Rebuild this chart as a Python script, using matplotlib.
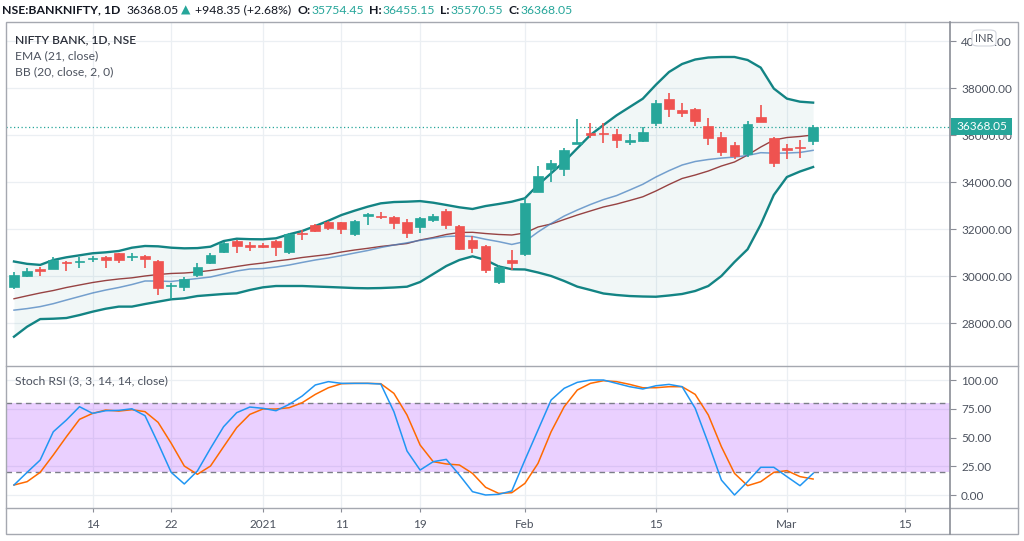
import numpy as np
import matplotlib.pyplot as plt
from matplotlib.patches import Rectangle, FancyBboxPatch
from matplotlib.lines import Line2D
from matplotlib.ticker import FormatStrFormatter

plt.rcParams['font.family'] = ['Lato', 'DejaVu Sans']

# daily bars, NIFTY BANK, 4 Dec 2020 .. 3 Mar 2021
dates = ['2020-12-04', '2020-12-07', '2020-12-08', '2020-12-09', '2020-12-10', '2020-12-11',
         '2020-12-14', '2020-12-15', '2020-12-16', '2020-12-17', '2020-12-18', '2020-12-21',
         '2020-12-22', '2020-12-23', '2020-12-24', '2020-12-28', '2020-12-29', '2020-12-30',
         '2020-12-31', '2021-01-01', '2021-01-04', '2021-01-05', '2021-01-06', '2021-01-07',
         '2021-01-08', '2021-01-11', '2021-01-12', '2021-01-13', '2021-01-14', '2021-01-15',
         '2021-01-18', '2021-01-19', '2021-01-20', '2021-01-21', '2021-01-22', '2021-01-25',
         '2021-01-27', '2021-01-28', '2021-01-29', '2021-02-01', '2021-02-02', '2021-02-03',
         '2021-02-04', '2021-02-05', '2021-02-08', '2021-02-09', '2021-02-10', '2021-02-11',
         '2021-02-12', '2021-02-15', '2021-02-16', '2021-02-17', '2021-02-18', '2021-02-19',
         '2021-02-22', '2021-02-23', '2021-02-24', '2021-02-25', '2021-02-26', '2021-03-01',
         '2021-03-02', '2021-03-03']

opens = [29545, 30013, 30325, 30325, 30600, 30600, 30735, 30820, 30980, 30808,
         30865, 30640, 29588, 29560, 30040, 30580, 31020, 31515, 31320, 31332,
         31515, 31050, 31855, 32183, 32325, 32300, 31815, 32565, 32580, 32535,
         32300, 32085, 32396, 32780, 32140, 31545, 31290, 29770, 30705, 30950,
         33600, 34566, 34553, 35643, 36110, 36110, 36055, 35730, 35770, 36536,
         37532, 37090, 37119, 36383, 35915, 35587, 35204, 36791, 35872, 35447,
         35515, 35754.45]
highs = [30183, 30353, 30410, 30807, 30640, 30830, 30865, 30865, 31005, 30980,
         30893, 30694, 29700, 29985, 30550, 30980, 31450, 31545, 31460, 31405,
         31545, 31830, 31983, 32210, 32370, 32325, 32410, 32680, 32725, 32580,
         32425, 32510, 32640, 32850, 32183, 31715, 31332, 30480, 31119, 33320,
         34707, 34950, 35447, 36680, 36510, 36510, 36268, 36055, 36366, 37502,
         37787, 37362, 37149, 36723, 36153, 35702, 36608, 37289, 35940, 35617,
         35800, 36455.15]
lows = [29460, 29970, 30013, 30300, 30225, 30340, 30610, 30365, 30560, 30650,
        30365, 29204, 29020, 29385, 29985, 30530, 30980, 31005, 31090, 31190,
        30880, 30937, 31545, 31885, 31970, 31815, 31730, 32170, 32425, 32010,
        31645, 31855, 32300, 32000, 31119, 31005, 30127, 29672, 30268, 30880,
        33600, 34025, 34268, 35630, 35872, 35660, 35447, 35587, 35730, 36408,
        36766, 36779, 36396, 35587, 35119, 34991, 35090, 36553, 34664, 34991,
        35047, 35570.55]
closes = [30055, 30225, 30240, 30694, 30560, 30640, 30760, 30694, 30694, 30865,
          30722, 29490, 29644, 29900, 30410, 30910, 31400, 31300, 31260, 31234,
          31234, 31787, 31787, 31940, 32070, 32000, 32370, 32635, 32535, 32255,
          31830, 32470, 32580, 32183, 31162, 31217, 30268, 30410, 30565, 33105,
          34280, 34808, 35374, 35702, 36000, 36068, 35800, 35787, 36153, 37362,
          37119, 36950, 36621, 35872, 35277, 35119, 36468, 36579, 34834, 35362,
          35447, 36368.05]

ema21 = [28560, 28625, 28710, 28835, 28990, 29140, 29290, 29415, 29523, 29650,
         29800, 29800, 29780, 29843, 29906, 29970, 30097, 30225, 30310, 30330,
         30395, 30480, 30590, 30694, 30780, 30880, 30990, 31097, 31225, 31332,
         31425, 31530, 31617, 31695, 31715, 31695, 31575, 31475, 31355, 31480,
         31885, 32245, 32565, 32820, 33055, 33265, 33435, 33672, 33915, 34225,
         34495, 34735, 34885, 34970, 35030, 35075, 35140, 35260, 35240, 35245,
         35270, 35360]
bb_basis = [29045, 29170, 29290, 29395, 29523, 29630, 29735, 29820, 29885, 29935,
            30013, 30077, 30120, 30140, 30183, 30247, 30330, 30417, 30500, 30565,
            30650, 30715, 30800, 30865, 30928, 31034, 31119, 31190, 31270, 31332,
            31395, 31545, 31650, 31780, 31865, 31872, 31820, 31780, 31757, 31843,
            32098, 32225, 32417, 32608, 32780, 32950, 33075, 33225, 33383, 33630,
            33906, 34162, 34310, 34480, 34693, 34864, 35160, 35500, 35800, 35905,
            35950, 36013]
bb_upper = [30630, 30530, 30485, 30694, 30808, 30893, 30980, 31020, 31077, 31217,
            31290, 31275, 31217, 31190, 31200, 31260, 31500, 31600, 31580, 31574,
            31617, 31787, 31928, 32140, 32365, 32608, 32792, 32962, 33105, 33160,
            33175, 33200, 33132, 33035, 32935, 32864, 32990, 33077, 33175, 33320,
            33885, 34383, 34877, 35447, 36013, 36438, 36850, 37204, 37557, 38150,
            38693, 39034, 39225, 39310, 39332, 39332, 39204, 38880, 37990, 37560,
            37430, 37390]
bb_lower = [27430, 27855, 28180, 28195, 28225, 28350, 28495, 28620, 28710, 28710,
            28820, 28920, 29020, 29062, 29160, 29204, 29247, 29275, 29417, 29530,
            29587, 29587, 29587, 29565, 29545, 29523, 29500, 29490, 29500, 29523,
            29557, 29757, 30097, 30438, 30694, 30850, 30694, 30420, 30300, 30290,
            30162, 30013, 29800, 29560, 29417, 29268, 29204, 29160, 29140, 29130,
            29183, 29247, 29375, 29587, 30013, 30608, 31150, 32200, 33460, 34225,
            34460, 34650]

stoch_k = [8.7, 19.7, 30.4, 55, 65.2, 76.8, 71, 73.3, 73.6, 75,
           69, 45, 19.7, 9.6, 20.9, 40.6, 59.4, 71.6, 76.5, 75.4,
           73.3, 78.8, 86.1, 95.7, 98.6, 97.1, 97.1, 97.1, 96.5, 72.5,
           38.3, 21.7, 29, 31, 17.4, 2.9, 0, 0.6, 3.5, 30.4,
           56.5, 82.6, 92.8, 98, 100, 100, 97.1, 94.2, 92.2, 95,
           96.2, 94.2, 75.4, 45, 13, 0, 11.6, 24.1, 24.1, 16,
           8.1, 18.8]
stoch_d = [8.7, 11.6, 19.7, 34.8, 50.7, 65.8, 71, 73.9, 73, 74.2,
           72.5, 63.2, 45, 25.2, 18, 25.2, 42, 58.6, 70.1, 74.8,
           74.8, 75.9, 80.3, 87.5, 93.3, 96.8, 97.1, 97.1, 96.8, 88.4,
           69.6, 43.5, 29, 27, 26.1, 18.8, 6.7, 1.4, 2, 10.1,
           27.5, 55, 76.8, 91.3, 97.1, 99.4, 98.6, 96.2, 93.3, 93.3,
           94.2, 94.2, 87.5, 69.6, 42, 18.8, 8.1, 11.6, 19.7, 21.2,
           16, 13.9]

# time-axis labels (bar index; 68 = 15 Mar, beyond the last bar)
tick_pos = [6, 12, 19, 25, 31, 39, 49, 59, 68]
tick_text = ['14', '22', '2021', '11', '19', 'Feb', '15', 'Mar', '15']
price_ticks = [28000, 30000, 32000, 34000, 36000, 38000, 40000]
stoch_ticks = [0, 25, 50, 75, 100]
last_close = 36368.05

GREEN = '#26A69A'
RED = '#EF5350'
TXT = '#4C525E'
GRID = '#EBEFF3'

W, H = 1024, 541
fig = plt.figure(figsize=(W / 100, H / 100), dpi=100)


def fx(x):
    return x / W


def fy(y):
    return 1 - y / H


L, R = 6, 950
ax = fig.add_axes([fx(L), fy(366), (R - L) / W, (366 - 22) / H])
ax2 = fig.add_axes([fx(L), fy(508), (R - L) / W, (508 - 366) / H], sharex=ax)

x = np.arange(len(dates))
o, h, l, c = (np.array(a, dtype=float) for a in (opens, highs, lows, closes))
cols = np.where(c >= o, GREEN, RED)

# bollinger bands + ema
ax.fill_between(x, bb_lower, bb_upper, color='#198787', alpha=0.06, lw=0, zorder=1)
ax.plot(x, bb_upper, color='#138484', lw=1.7, zorder=2)
ax.plot(x, bb_lower, color='#138484', lw=1.7, zorder=2)
ax.plot(x, bb_basis, color='#872323', lw=1.0, alpha=0.85, zorder=2)
ax.plot(x, ema21, color='#4A82C0', lw=1.1, alpha=0.75, zorder=2)

# candles
ax.vlines(x, l, h, colors=cols, lw=1.2, zorder=4)
body_h = np.maximum(np.abs(c - o), 25)
ax.bar(x, body_h, bottom=np.minimum(o, c), width=0.74, color=cols,
       edgecolor=cols, lw=0.5, zorder=5)

ax.axhline(last_close, color=GREEN, ls=(0, (1, 2)), lw=0.9, zorder=3)

ax.set_xlim(-0.61, 71.45)
ax.set_ylim(26183, 40821)
ax.set_xticks(tick_pos)
ax.set_yticks(price_ticks)
ax.yaxis.set_major_formatter(FormatStrFormatter('%.2f'))
ax.yaxis.tick_right()
ax.tick_params(axis='y', direction='out', length=4, pad=4, labelsize=8.5,
               colors='#8A8D96', labelcolor=TXT)
ax.tick_params(axis='x', length=0, labelbottom=False)
ax.grid(True, color=GRID, lw=0.9, zorder=0)
ax.set_axisbelow(True)
for s in ax.spines.values():
    s.set_visible(False)

for txt, yy, col, wt in [('NIFTY BANK, 1D, NSE', 40, '#2A2E39', 'semibold'),
                         ('EMA (21, close)', 56, TXT, 'normal'),
                         ('BB (20, close, 2, 0)', 72, TXT, 'normal')]:
    ax.text(9 / (R - L), 1 - (yy - 22) / (366 - 22), txt, transform=ax.transAxes,
            fontsize=8.7, color=col, va='center', ha='left', fontweight=wt)

# stoch rsi pane
ax2.axhspan(20, 80, color='#9915FF', alpha=0.2, lw=0, zorder=1)
ax2.axhline(80, color='#7B7E88', lw=1, ls=(0, (4, 3)), zorder=2)
ax2.axhline(20, color='#7B7E88', lw=1, ls=(0, (4, 3)), zorder=2)
ax2.plot(x, stoch_k, color='#2196F3', lw=1.1, zorder=4)
ax2.plot(x, stoch_d, color='#FF6A00', lw=1.1, zorder=3)
ax2.set_ylim(-11.3, 112.2)
ax2.set_yticks(stoch_ticks)
ax2.yaxis.set_major_formatter(FormatStrFormatter('%.2f'))
ax2.yaxis.tick_right()
ax2.tick_params(axis='y', direction='out', length=4, pad=4, labelsize=8.5,
                colors='#8A8D96', labelcolor=TXT)
ax2.set_xticks(tick_pos)
ax2.set_xticklabels(tick_text)
ax2.tick_params(axis='x', direction='out', length=3, pad=5, labelsize=8.5,
                colors='#8A8D96', labelcolor=TXT)
ax2.grid(True, color=GRID, lw=0.9, zorder=0)
ax2.set_axisbelow(True)
for s in ax2.spines.values():
    s.set_visible(False)
ax2.text(9 / (R - L), 1 - (381 - 366) / (508 - 366), 'Stoch RSI (3, 3, 14, 14, close)',
         transform=ax2.transAxes, fontsize=8.7, color=TXT, va='center', ha='left')

# frame lines
frame = '#A5A8B0'
fig.add_artist(Rectangle((fx(6), fy(534)), (1018 - 6) / W, (534 - 22) / H, fill=False,
                         edgecolor=frame, lw=1, transform=fig.transFigure))
for yy in (366, 508):
    fig.add_artist(Line2D([fx(6), fx(1018)], [fy(yy), fy(yy)], color=frame, lw=1,
                          transform=fig.transFigure))
fig.add_artist(Line2D([fx(950), fx(950)], [fy(22), fy(534)], color='#8A8D96', lw=1.2,
                      transform=fig.transFigure))

# last price label
fig.add_artist(Rectangle((fx(951), fy(135)), 61 / W, 17 / H, color=GREEN, lw=0,
                         transform=fig.transFigure, zorder=5))
fig.text(fx(981.5), fy(126.5), '36368.05', color='white', fontsize=8.5,
         ha='center', va='center', zorder=6)

# currency badge
fig.add_artist(FancyBboxPatch((fx(972), fy(46)), 24 / W, 16 / H,
                              boxstyle='round,pad=0,rounding_size=0.006', facecolor='white',
                              edgecolor='#D1D4DC', lw=0.8, transform=fig.transFigure, zorder=5))
fig.text(fx(984), fy(38), 'INR', color=TXT, fontsize=8, ha='center', va='center', zorder=6)

# header line, pieces laid out one after another (gap in px after each)
hdr = [('NSE:BANKNIFTY, 1D', '#131722', 'bold', 6),
       ('36368.05', '#131722', 'normal', 2),
       ('\u25B2', GREEN, 'normal', 5),
       ('+948.35 (+2.68%)', '#131722', 'normal', 6),
       ('O:', '#131722', 'bold', 1), ('35754.45', GREEN, 'normal', 5),
       ('H:', '#131722', 'bold', 1), ('36455.15', GREEN, 'normal', 5),
       ('L:', '#131722', 'bold', 1), ('35570.55', GREEN, 'normal', 5),
       ('C:', '#131722', 'bold', 1), ('36368.05', GREEN, 'normal', 0)]
renderer = fig.canvas.get_renderer()
xpos = 2
for s, col, wt, gap in hdr:
    t = fig.text(fx(xpos), fy(10), s, color=col, fontsize=8.8, fontweight=wt,
                 ha='left', va='center')
    xpos += t.get_window_extent(renderer=renderer).width + gap

fig.savefig('out.png', dpi=100)
